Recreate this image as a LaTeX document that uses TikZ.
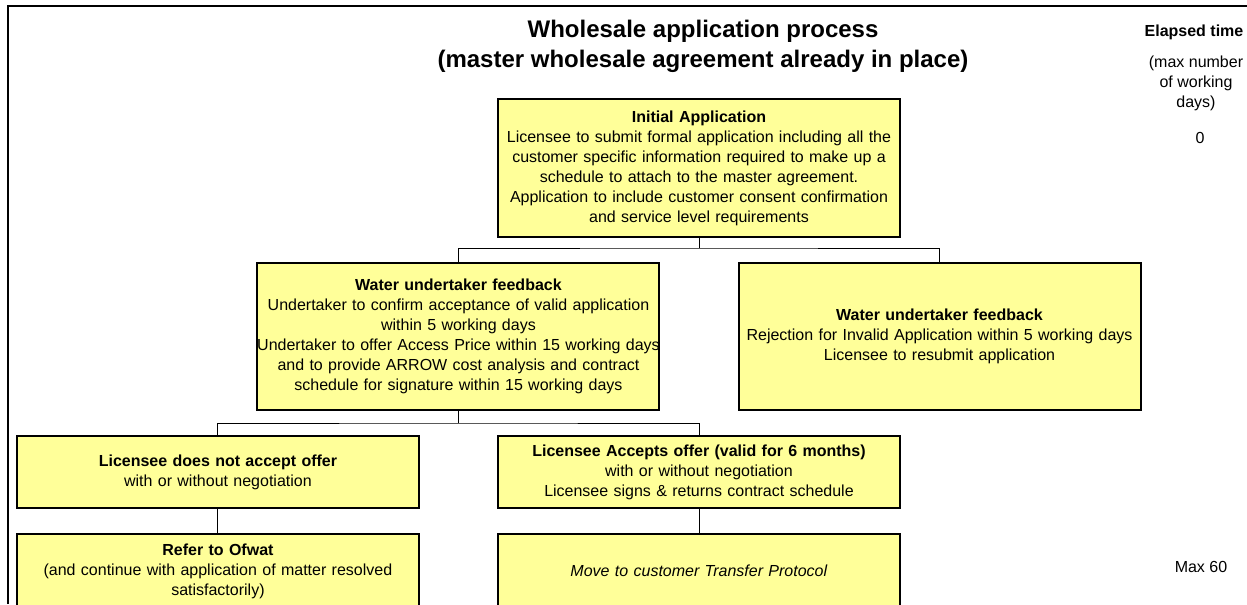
\documentclass[tikz,border=0pt]{standalone}
\usepackage{fontspec}
\setmainfont{Liberation Sans}
\usepackage{tikz}
\usetikzlibrary{positioning}
\definecolor{boxyellow}{HTML}{FFFF99}

\begin{document}
\begin{tikzpicture}[
  x=0.75pt, y=-0.75pt,
  every node/.style={align=center, font=\fontsize{12}{15}\selectfont},
  box/.style={draw, line width=1.5pt, fill=boxyellow, text width=298pt, inner xsep=1pt, minimum width=301.5pt},
  link/.style={line width=0.75pt},
  pageframe/.style={line width=2pt}
]
\useasboundingbox (0,0) rectangle (1247,604);
\draw[pageframe] (8,604) -- (8,6) -- (1247,6);

\node[box, minimum height=103.5pt] (init) at (699,168) {\textbf{Initial Application}\\Licensee to submit formal application including all the\\customer specific information required to make up a\\schedule to attach to the master agreement.\\Application to include customer consent confirmation\\and service level requirements};
\node[box, minimum height=110.25pt, below=18pt of init, xshift=-180.4pt] (fbOk) {\textbf{Water undertaker feedback}\\Undertaker to confirm acceptance of valid application\\within 5 working days\\\makebox[298pt]{Undertaker to offer Access Price within 15 working days}\\and to provide ARROW cost analysis and contract\\schedule for signature within 15 working days};
\node[box, minimum height=110.25pt, below=18pt of init, xshift=180.4pt] (fbRej) {\textbf{Water undertaker feedback}\\Rejection for Invalid Application within 5 working days\\Licensee to resubmit application};
\node[box, minimum height=54pt, below=18pt of fbOk, xshift=-180.4pt] (noAcc) {\textbf{Licensee does not accept offer}\\with or without negotiation};
\node[box, minimum height=54pt, below=18pt of fbOk, xshift=180.4pt] (acc) {\textbf{Licensee Accepts offer (valid for 6 months)}\\with or without negotiation\\Licensee signs \& returns contract schedule};
\node[box, minimum height=55.5pt, below=18pt of noAcc] (ofwat) {\textbf{Refer to Ofwat}\\(and continue with application of matter resolved\\satisfactorily)};
\node[box, minimum height=55.5pt, below=18pt of acc] (transfer) {\textit{Move to customer Transfer Protocol}};

% tree connectors
\draw[link] (init.south) -- ++(0,10) coordinate (j1);
\draw[link] (fbOk.north) |- (j1) -| (fbRej.north);
\draw[link] (fbOk.south) -- ++(0,12) coordinate (j2);
\draw[link] (noAcc.north) |- (j2) -| (acc.north);
\draw[link] (noAcc) -- (ofwat);
\draw[link] (acc) -- (transfer);

\node[font=\fontsize{18}{22.5}\selectfont\bfseries] (title) at (703,46) {Wholesale application process\\(master wholesale agreement already in place)};
\node[font=\fontsize{12}{15}\selectfont\bfseries] (elapsed) at (1194,32) {Elapsed time};
\node (maxdays) at (1196,83) {(max number\\of working\\days)};
\node (day0) at (1200,138) {0};
\node (day60) at (1201,567) {Max 60};
\end{tikzpicture}
\end{document}
